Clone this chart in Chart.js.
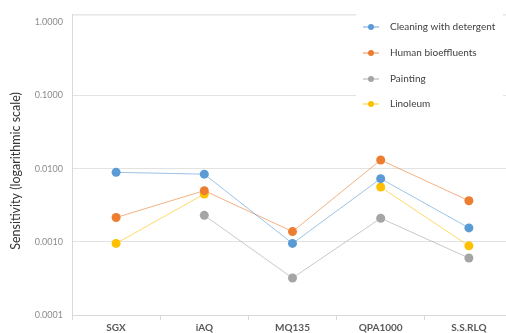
<!DOCTYPE html>
<html>
<head>
<meta charset="utf-8">
<script src="https://cdn.jsdelivr.net/npm/chart.js@4/dist/chart.umd.min.js"></script>
<style>
  html, body { margin: 0; padding: 0; background: #fff; overflow: hidden; }
  #wrap { width: 520px; height: 333px; position: relative; }
</style>
</head>
<body>
<div id="wrap"><canvas id="myChart"></canvas></div>
<script>
var sensors = ['SGX', 'iAQ', 'MQ135', 'QPA1000', 'S.S.RLQ'];
var cleaning = [0.0089, 0.0084, 0.00095, 0.0073, 0.00155];
var bioeffluents = [0.00215, 0.0050, 0.00138, 0.0131, 0.00364];
var painting = [null, 0.0023, 0.00032, 0.0021, 0.00060];
var linoleum = [0.00095, 0.0045, null, 0.0056, 0.00088];
var yTicks = [0.0001, 0.001, 0.01, 0.1, 1];

var names = ['Cleaning with detergent', 'Human bioeffluents', 'Painting', 'Linoleum'];
var pointColors = ['#5b9bd5', '#ed7d31', '#a5a5a5', '#ffc000'];
var lineColors = ['rgba(91,155,213,0.6)', 'rgba(237,125,49,0.6)', 'rgba(165,165,165,0.6)', 'rgba(255,192,0,0.6)'];
var series = [cleaning, bioeffluents, painting, linoleum];
var yTitle = 'Sensitivity (logarithmic scale)';

var datasets = series.map(function (vals, i) {
    return {
        label: names[i],
        data: vals,
        borderColor: lineColors[i],
        borderWidth: 1,
        backgroundColor: pointColors[i],
        pointBackgroundColor: pointColors[i],
        pointBorderWidth: 0,
        pointRadius: 4.5,
        tension: 0,
        spanGaps: false
    };
});

// legend box, axis title and top frame line, drawn by hand
var extras = {
    id: 'extras',
    afterDraw: function (chart) {
        var ctx = chart.ctx;
        var area = chart.chartArea;
        ctx.save();
        ctx.strokeStyle = '#d9d9d9';
        ctx.lineWidth = 1;
        ctx.beginPath();
        ctx.moveTo(area.left, area.top + 0.5);
        ctx.lineTo(chart.width, area.top + 0.5);
        ctx.stroke();

        // y title
        ctx.save();
        ctx.translate(16, 171);
        ctx.rotate(-Math.PI / 2);
        ctx.font = '12.5px Lato, "Open Sans", sans-serif';
        ctx.fillStyle = '#333333';
        ctx.textAlign = 'center';
        ctx.textBaseline = 'middle';
        ctx.fillText(yTitle, 0, 0);
        ctx.restore();

        ctx.fillStyle = '#ffffff';
        ctx.fillRect(356, 14, 147, 102);

        ctx.font = '10px Lato, "Open Sans", sans-serif';
        ctx.textBaseline = 'middle';
        ctx.textAlign = 'left';
        var ys = [27, 53, 79, 104];
        chart.data.datasets.forEach(function (ds, i) {
            var y = ys[i];
            ctx.strokeStyle = ds.borderColor;
            ctx.lineWidth = 1.5;
            ctx.beginPath();
            ctx.moveTo(363, y);
            ctx.lineTo(379, y);
            ctx.stroke();
            ctx.fillStyle = ds.pointBackgroundColor;
            ctx.beginPath();
            ctx.arc(371, y, 3, 0, Math.PI * 2);
            ctx.fill();
            ctx.fillStyle = '#404040';
            ctx.fillText(ds.label, 390, y);
        });
        ctx.restore();
    }
};

var ctx = document.getElementById('myChart').getContext('2d');
var myChart = new Chart(ctx, {
    type: 'line',
    data: { labels: sensors, datasets: datasets },
    plugins: [extras],
    options: {
        responsive: true,
        maintainAspectRatio: false,
        animation: false,
        layout: { padding: { top: 9, right: 7, bottom: 0, left: 0 } },
        plugins: {
            legend: { display: false },
            tooltip: { enabled: false }
        },
        scales: {
            x: {
                type: 'category',
                offset: true,
                afterFit: function (scale) { scale.height = 18; },
                grid: {
                    offset: true,
                    drawOnChartArea: false,
                    drawTicks: true,
                    tickLength: 5,
                    color: '#d9d9d9'
                },
                border: { color: '#d9d9d9' },
                ticks: {
                    padding: 2,
                    color: '#595959',
                    font: { family: 'Lato, "Open Sans", sans-serif', size: 10, weight: 'bold' }
                }
            },
            y: {
                type: 'logarithmic',
                min: 0.0001,
                max: 1.28,
                afterFit: function (scale) { scale.width = 72; },
                afterBuildTicks: function (scale) {
                    scale.ticks = yTicks.map(function (v) { return { value: v }; });
                },
                grid: {
                    drawTicks: false,
                    color: function (c) {
                        var v = c.tick && c.tick.value;
                        return (v === 1 || v === 0.0001) ? 'rgba(0,0,0,0)' : '#e3e3e3';
                    }
                },
                border: { color: '#d9d9d9' },
                ticks: {
                    padding: 9,
                    color: '#8c8c8c',
                    font: { family: 'Lato, "Open Sans", sans-serif', size: 9 },
                    callback: function (v) { return Number(v).toFixed(4); }
                },
                title: { display: false }
            }
        }
    }
});
</script>
</body>
</html>
